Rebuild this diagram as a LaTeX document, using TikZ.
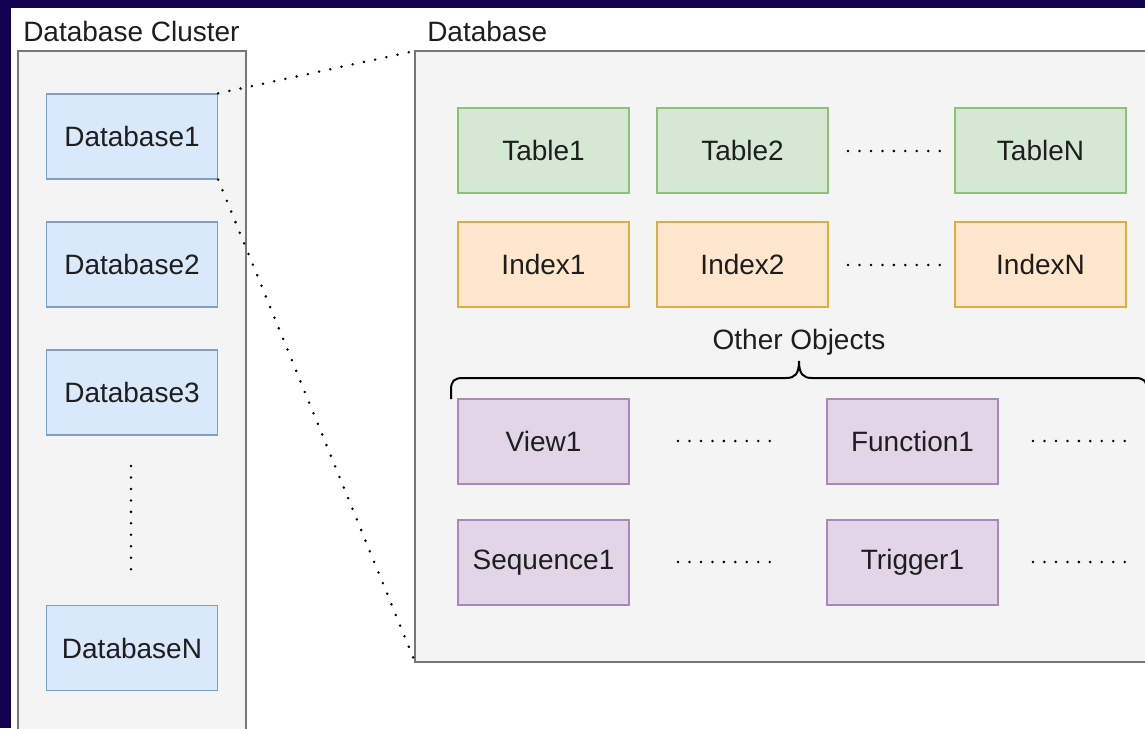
\documentclass[tikz,border=0pt]{standalone}
\usepackage{fontspec}
\setmainfont{Liberation Sans}
\definecolor{navy}{RGB}{18,0,80}
\definecolor{contfill}{HTML}{F4F4F4}
\definecolor{contline}{HTML}{777777}
\definecolor{txt}{HTML}{1E1E1E}
\definecolor{bluefill}{HTML}{DAE8FC}\definecolor{blueline}{HTML}{7C9ECF}
\definecolor{greenfill}{HTML}{D5E8D4}\definecolor{greenline}{HTML}{8EC07A}
\definecolor{orangefill}{HTML}{FFE6CC}\definecolor{orangeline}{HTML}{E0AD3A}
\definecolor{purplefill}{HTML}{E1D5E7}\definecolor{purpleline}{HTML}{A888BA}
\tikzset{
  x=0.75pt, y=-0.75pt,
  every node/.style={font=\fontsize{21}{25}\selectfont, text=txt},
  cbox/.style={draw, rectangle, line width=1pt, minimum width=128.25pt, minimum height=63.75pt, inner sep=0pt},
  dbbox/.style={cbox, fill=bluefill, draw=blueline},
  tbox/.style={cbox, fill=greenfill, draw=greenline},
  ibox/.style={cbox, fill=orangefill, draw=orangeline},
  pbox/.style={cbox, fill=purplefill, draw=purpleline},
  cont/.style={draw=contline, fill=contfill, line width=1.1pt},
  dotline/.style={line width=2.1pt, line cap=round, dash pattern=on 0pt off 8.6pt, black},
  title/.style={anchor=west, inner sep=0pt},
}
\begin{document}
\begin{tikzpicture}
\useasboundingbox (0,0) rectangle (1145,728);
\fill[navy] (0,0) rectangle (1145,728);
\fill[white] (11,8) rectangle (1145,728);
% containers
\draw[cont] (18,740) -- (18,51) -- (246,51) -- (246,740);
\draw[cont] (1160,51) -- (415,51) -- (415,662) -- (1160,662);
\coordinate (dbnw) at (415,51);
\coordinate (dbsw) at (415,662);
\node[title] (lcl) at (23,31) {Database Cluster};
\node[title] (ldb) at (427,31) {Database};
% cluster
\node[dbbox] (db1) at (132,136.5) {Database1};
\node[dbbox] (db2) at (132,264.5) {Database2};
\node[dbbox] (db3) at (132,392.5) {Database3};
\node[dbbox] (dbn) at (132,648) {DatabaseN};
\coordinate (v1) at (131,466);
\coordinate (v2) at (131,572);
\draw[dotline] (v1) -- (v2);
% zoom lines
\draw[dotline] (db1.north east) -- (dbnw);
\draw[dotline] (db1.south east) -- (dbsw);
% tables
\node[tbox] (t1) at (543.5,150.5) {Table1};
\node[tbox] (t2) at (742.5,150.5) {Table2};
\node[tbox] (tn) at (1040.5,150.5) {TableN};
\node[ibox] (i1) at (543.5,264.5) {Index1};
\node[ibox] (i2) at (742.5,264.5) {Index2};
\node[ibox] (in) at (1040.5,264.5) {IndexN};
\coordinate (ta) at (848,151); \coordinate (tb) at (942,151);
\coordinate (ia) at (848,265); \coordinate (ib) at (942,265);
\draw[dotline] (ta) -- (tb);
\draw[dotline] (ia) -- (ib);
% other objects
\node[pbox] (view) at (543.5,441.5) {View1};
\node[pbox] (func) at (912.5,441.5) {Function1};
\node[pbox] (seq) at (543.5,562.5) {Sequence1};
\node[pbox] (trig) at (912.5,562.5) {Trigger1};
\coordinate (va) at (678,441); \coordinate (vb) at (770,441);
\coordinate (fa) at (1033,441); \coordinate (fb) at (1125,441);
\coordinate (sa) at (678,562); \coordinate (sb) at (770,562);
\coordinate (ra) at (1033,562); \coordinate (rb) at (1125,562);
\draw[dotline] (va) -- (vb);
\draw[dotline] (fa) -- (fb);
\draw[dotline] (sa) -- (sb);
\draw[dotline] (ra) -- (rb);
% brace
\draw[line width=1.5pt, black] (451,399) -- (451,390) .. controls (451,381) and (454,378) .. (463,378)
  -- (786,378) .. controls (795,378) and (799,374) .. (799,361)
  .. controls (799,374) and (803,378) .. (812,378) -- (1135,378)
  .. controls (1144,378) and (1147,381) .. (1147,390) -- (1147,399);
\node[inner sep=0pt] (oo) at (799,342) {Other Objects};
\end{tikzpicture}
\end{document}
